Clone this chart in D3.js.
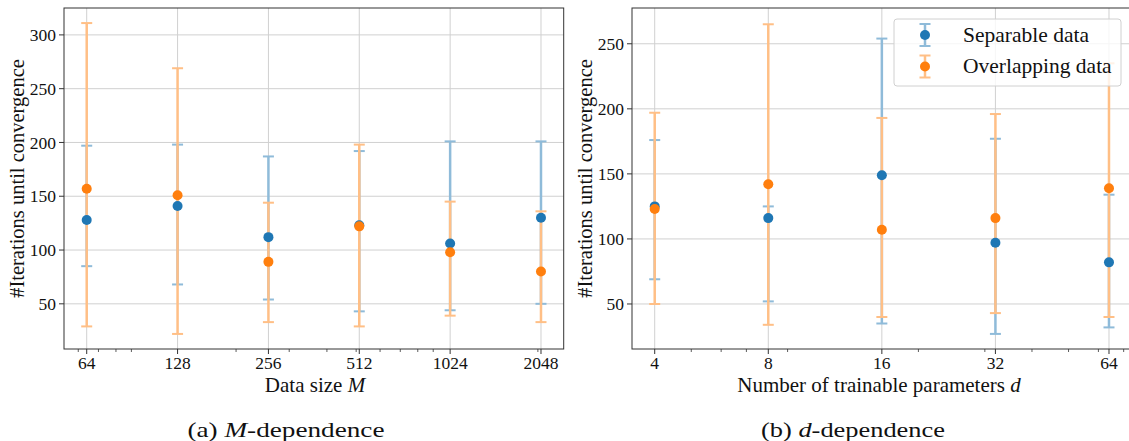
<!DOCTYPE html>
<html>
<head>
<meta charset="utf-8">
<script src="https://cdn.jsdelivr.net/npm/d3@7"></script>
<style>
  body { margin: 0; background: #fff; }
  text { font-family: "Liberation Serif", "DejaVu Serif", serif; fill: #111; }
</style>
</head>
<body>
<div id="chart"></div>
<script>
// ---- data ----
const dataSizes = [64, 128, 256, 512, 1024, 2048];
const sepM = [128, 141, 112, 123, 106, 130];
const sepMLo = [85, 68, 54, 43, 44, 50];
const sepMHi = [197, 198, 187, 192, 201, 201];
const ovlM = [157, 151, 89, 122, 98, 80];
const ovlMLo = [29, 22, 33, 29, 39, 33];
const ovlMHi = [311, 269, 144, 198, 145, 136];

const numParams = [4, 8, 16, 32, 64];
const sepD = [125, 116, 149, 97, 82];
const sepDLo = [69, 52, 35, 27, 32];
const sepDHi = [176, 125, 254, 177, 134];
const ovlD = [123, 142, 107, 116, 139];
const ovlDLo = [50, 34, 40, 43, 40];
const ovlDHi = [197, 265, 193, 196, 235];

const yTicksM = [50, 100, 150, 200, 250, 300];
const yTicksD = [50, 100, 150, 200, 250];

const seriesNames = ['Separable data', 'Overlapping data'];
const colors = ['#1f77b4', '#ff7f0e'];
const barColors = ['#8fbbd9', '#ffbf86'];

const W = 1129, H = 441;
const svg = d3.select('#chart').append('svg')
    .attr('width', W).attr('height', H);

function minorTicks(domain, majors) {
    // base-10 log minor ticks (2..9 x 10^k) inside the domain
    const out = [];
    for (let k = 0; k < 5; k++) {
        for (let s = 2; s <= 9; s++) {
            const v = s * Math.pow(10, k);
            if (v >= domain[0] && v <= domain[1] && !majors.includes(v)) out.push(v);
        }
    }
    return out;
}

function panel(opt) {
    const x = d3.scaleLog().base(2).domain(opt.xDomain).range([opt.x0, opt.x1]);
    const y = d3.scaleLinear().domain(opt.yDomain).range([349, 8]);
    const g = svg.append('g');

    // grid
    g.append('g').selectAll('line').data(opt.yTicks).join('line')
        .attr('x1', opt.x0).attr('x2', opt.x1)
        .attr('y1', d => y(d)).attr('y2', d => y(d))
        .attr('stroke', '#d0d0d0').attr('stroke-width', 1);
    g.append('g').selectAll('line').data(opt.xs).join('line')
        .attr('x1', d => x(d)).attr('x2', d => x(d))
        .attr('y1', 8).attr('y2', 349)
        .attr('stroke', '#d0d0d0').attr('stroke-width', 1);

    // error bars, then points (matplotlib zorder)
    const series = [
        { m: opt.sep, lo: opt.sepLo, hi: opt.sepHi },
        { m: opt.ovl, lo: opt.ovlLo, hi: opt.ovlHi }
    ];
    series.forEach((s, i) => {
        const eb = g.append('g').attr('stroke', barColors[i]).attr('stroke-width', 2.5);
        opt.xs.forEach((xv, j) => {
            eb.append('line').attr('x1', x(xv)).attr('x2', x(xv))
                .attr('y1', y(s.lo[j])).attr('y2', y(s.hi[j]));
            [s.lo[j], s.hi[j]].forEach(v => {
                eb.append('line').attr('x1', x(xv) - 5.5).attr('x2', x(xv) + 5.5)
                    .attr('y1', y(v)).attr('y2', y(v)).attr('stroke-width', 2);
            });
        });
    });
    series.forEach((s, i) => {
        g.append('g').selectAll('circle').data(opt.xs).join('circle')
            .attr('cx', d => x(d)).attr('cy', (d, j) => y(s.m[j]))
            .attr('r', 5).attr('fill', colors[i]);
    });

    // frame
    g.append('rect').attr('x', opt.x0).attr('y', 8)
        .attr('width', opt.x1 - opt.x0).attr('height', 341)
        .attr('fill', 'none').attr('stroke', '#333').attr('stroke-width', 1);

    // x ticks
    g.append('g').selectAll('line').data(opt.xs).join('line')
        .attr('x1', d => x(d)).attr('x2', d => x(d))
        .attr('y1', 349).attr('y2', 354).attr('stroke', '#333');
    g.append('g').selectAll('line').data(minorTicks(opt.xDomain, opt.xs)).join('line')
        .attr('x1', d => x(d)).attr('x2', d => x(d))
        .attr('y1', 349).attr('y2', 352).attr('stroke', '#333').attr('stroke-width', 0.8);
    g.append('g').selectAll('text').data(opt.xs).join('text')
        .attr('x', d => x(d)).attr('y', 368.5)
        .attr('text-anchor', 'middle').attr('font-size', 17.5)
        .text(d => d);

    // y ticks
    g.append('g').selectAll('line').data(opt.yTicks).join('line')
        .attr('x1', opt.x0 - 5).attr('x2', opt.x0)
        .attr('y1', d => y(d)).attr('y2', d => y(d)).attr('stroke', '#333');
    g.append('g').selectAll('text').data(opt.yTicks).join('text')
        .attr('x', opt.x0 - 8).attr('y', d => y(d))
        .attr('dy', '0.35em').attr('text-anchor', 'end').attr('font-size', 17.5)
        .text(d => d);

    // axis labels
    const xl = g.append('text')
        .attr('x', opt.xLabelX).attr('y', 391.5)
        .attr('text-anchor', 'middle').attr('font-size', 21);
    xl.append('tspan').text(opt.xLabel);
    xl.append('tspan').attr('font-style', 'italic').text(opt.xVar);

    g.append('text')
        .attr('transform', `translate(${opt.yLabelX},178.5) rotate(-90)`)
        .attr('text-anchor', 'middle').attr('font-size', 20.5)
        .text('#Iterations until convergence');

    // caption
    const cap = g.append('text')
        .attr('x', opt.capX).attr('y', 437)
        .attr('text-anchor', 'middle').attr('font-size', 21)
        .attr('textLength', opt.capW).attr('lengthAdjust', 'spacingAndGlyphs');
    cap.append('tspan').text(opt.capA);
    cap.append('tspan').attr('font-style', 'italic').text(opt.xVar);
    cap.append('tspan').text('-dependence');

    return { x, y, g };
}

panel({
    x0: 64, x1: 563.7,
    xDomain: [Math.pow(2, 5.75), Math.pow(2, 11.25)],
    yDomain: [8, 325],
    xs: dataSizes, yTicks: yTicksM,
    sep: sepM, sepLo: sepMLo, sepHi: sepMHi,
    ovl: ovlM, ovlLo: ovlMLo, ovlHi: ovlMHi,
    xLabel: 'Data size ', xVar: 'M', xLabelX: 315,
    yLabelX: 24, capX: 286, capW: 197, capA: '(a) '
});

panel({
    x0: 632, x1: 1131.7,
    xDomain: [Math.pow(2, 1.8), Math.pow(2, 6.2)],
    yDomain: [15.4, 277.5],
    xs: numParams, yTicks: yTicksD,
    sep: sepD, sepLo: sepDLo, sepHi: sepDHi,
    ovl: ovlD, ovlLo: ovlDLo, ovlHi: ovlDHi,
    xLabel: 'Number of trainable parameters ', xVar: 'd', xLabelX: 879,
    yLabelX: 592, capX: 853, capW: 184, capA: '(b) '
});

// legend
const legend = svg.append('g');
legend.append('rect')
    .attr('x', 894).attr('y', 19).attr('width', 227).attr('height', 67)
    .attr('rx', 3)
    .attr('fill', '#fff').attr('fill-opacity', 0.8)
    .attr('stroke', '#d0d0d0');
seriesNames.forEach((name, i) => {
    const cy = 35 + i * 31.5;
    const lg = legend.append('g');
    lg.append('line').attr('x1', 925).attr('x2', 925)
        .attr('y1', cy - 11).attr('y2', cy + 11)
        .attr('stroke', barColors[i]).attr('stroke-width', 2.5);
    [-11, 11].forEach(o => lg.append('line')
        .attr('x1', 919.5).attr('x2', 930.5)
        .attr('y1', cy + o).attr('y2', cy + o)
        .attr('stroke', barColors[i]).attr('stroke-width', 2));
    lg.append('circle').attr('cx', 925).attr('cy', cy).attr('r', 5).attr('fill', colors[i]);
    lg.append('text').attr('x', 963).attr('y', cy).attr('dy', '0.32em')
        .attr('font-size', 21.5).text(name);
});
</script>
</body>
</html>
